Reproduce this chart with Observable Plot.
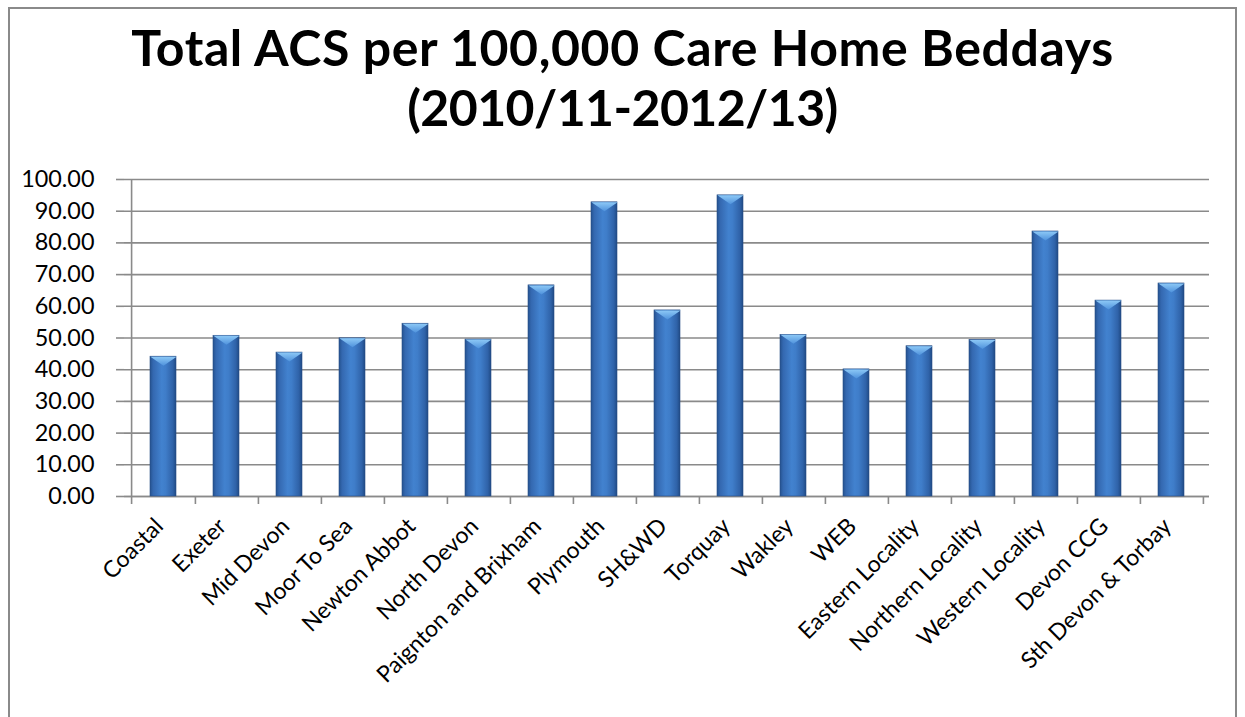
<!DOCTYPE html>
<html>
<head>
<meta charset="utf-8">
<script src="https://cdn.jsdelivr.net/npm/d3@7"></script>
<script src="https://cdn.jsdelivr.net/npm/@observablehq/plot@0.6"></script>
<style>
  html, body { margin: 0; padding: 0; background: #fff; width: 1245px; height: 717px; overflow: hidden; }
  #frame { position: absolute; left: 8px; top: 7px; width: 1229px; height: 800px; border: 2px solid #8a8a8a; box-sizing: border-box; }
  #title { position: absolute; left: 0; top: 0; width: 1245px; height: 150px; text-align: center;
           font-family: Lato, sans-serif; font-weight: 700; font-size: 50px; line-height: 60px; color: #000; }
  #title .inner { position: absolute; left: 0; width: 1245px; top: 17px; }
  #title .l1 { letter-spacing: 0.6px; }
  #title .l2 { letter-spacing: -0.6px; }
  #chart { position: absolute; left: 0; top: 150px; }
</style>
</head>
<body>
<div id="frame"></div>
<div id="title"><div class="inner"><span class="l1">Total ACS per 100,000 Care Home Beddays</span><br><span class="l2">(2010/11-2012/13)</span></div></div>
<div id="chart"></div>
<script>
const categories = ["Coastal", "Exeter", "Mid Devon", "Moor To Sea", "Newton Abbot", "North Devon",
  "Paignton and Brixham", "Plymouth", "SH&WD", "Torquay", "Wakley", "WEB", "Eastern Locality",
  "Northern Locality", "Western Locality", "Devon CCG", "Sth Devon & Torbay"];
const values = [44.1, 50.7, 45.4, 49.9, 54.5, 49.5, 66.6, 92.8, 58.7, 95.0, 51.0, 40.1, 47.4, 49.4, 83.6, 61.8, 67.2];
const yTicks = [0, 10, 20, 30, 40, 50, 60, 70, 80, 90, 100];

const data = categories.map((c, i) => ({area: c, value: values[i]}));

const W = 1245, H = 567, ML = 124, MR = 36, MT = 29, MB = 221;
const PAD = 0.59;
const step = (W - ML - MR) / categories.length;
const barW = step * (1 - PAD);

// inverted-triangle bevel on top of each bar
const bevel = {
  draw(ctx) {
    const h = barW / 2;
    ctx.moveTo(-h, 0);
    ctx.lineTo(h, 0);
    ctx.lineTo(0, 9);
    ctx.closePath();
  }
};

const chart = Plot.plot({
  width: W, height: H,
  marginLeft: ML, marginRight: MR, marginTop: MT, marginBottom: MB,
  style: {fontFamily: "Lato, sans-serif", background: "transparent", overflow: "visible"},
  x: {domain: categories, paddingInner: PAD, paddingOuter: PAD / 2, label: null},
  y: {domain: [0, 100], label: null},
  marks: [
    Plot.gridY(yTicks, {stroke: "#8a8a8a", strokeOpacity: 1, strokeWidth: 1.6}),
    Plot.axisY(yTicks, {tickFormat: d => d.toFixed(2), tickSize: 8, tickPadding: 22, fontSize: 23.4,
      stroke: "#8a8a8a", strokeWidth: 1.6, fill: "#000", label: null}),
    Plot.ruleY([0], {stroke: "#8a8a8a", strokeWidth: 1.6}),
    Plot.ruleX([categories[0]], {x: d => d, dx: -step / 2, insetBottom: -8, stroke: "#8a8a8a", strokeWidth: 1.6}),
    Plot.ruleX(categories, {x: d => d, y1: 0, y2: 0, dx: step / 2, insetBottom: -8, stroke: "#8a8a8a", strokeWidth: 1.6}),
    Plot.barY(data, {x: "area", y: "value", fill: "url(#barGrad)", stroke: "#2a4f85", strokeWidth: 0.6}),
    Plot.dot(data, {x: "area", y: "value", symbol: bevel, r: 10, fill: "url(#bevelGrad)", stroke: null}),
    Plot.axisX({tickRotate: -45, tickSize: 0, tickPadding: 26, dx: -4, fontSize: 23, fill: "#000", label: null})
  ]
});

const defs = d3.select(chart).insert("defs", ":first-child");
const g1 = defs.append("linearGradient").attr("id", "barGrad").attr("x1", "0").attr("x2", "1").attr("y1", "0").attr("y2", "0");
[[0, "#24528f"], [0.12, "#3468b0"], [0.45, "#4282cf"], [0.6, "#3f7dc9"], [0.88, "#2f62a8"], [1, "#1f4a84"]]
  .forEach(([o, c]) => g1.append("stop").attr("offset", o).attr("stop-color", c));
const g2 = defs.append("linearGradient").attr("id", "bevelGrad").attr("x1", "0").attr("x2", "0").attr("y1", "0").attr("y2", "1");
[[0, "#8cc8f6"], [1, "#4f92dc"]].forEach(([o, c]) => g2.append("stop").attr("offset", o).attr("stop-color", c));

document.getElementById("chart").appendChild(chart);
</script>
</body>
</html>
